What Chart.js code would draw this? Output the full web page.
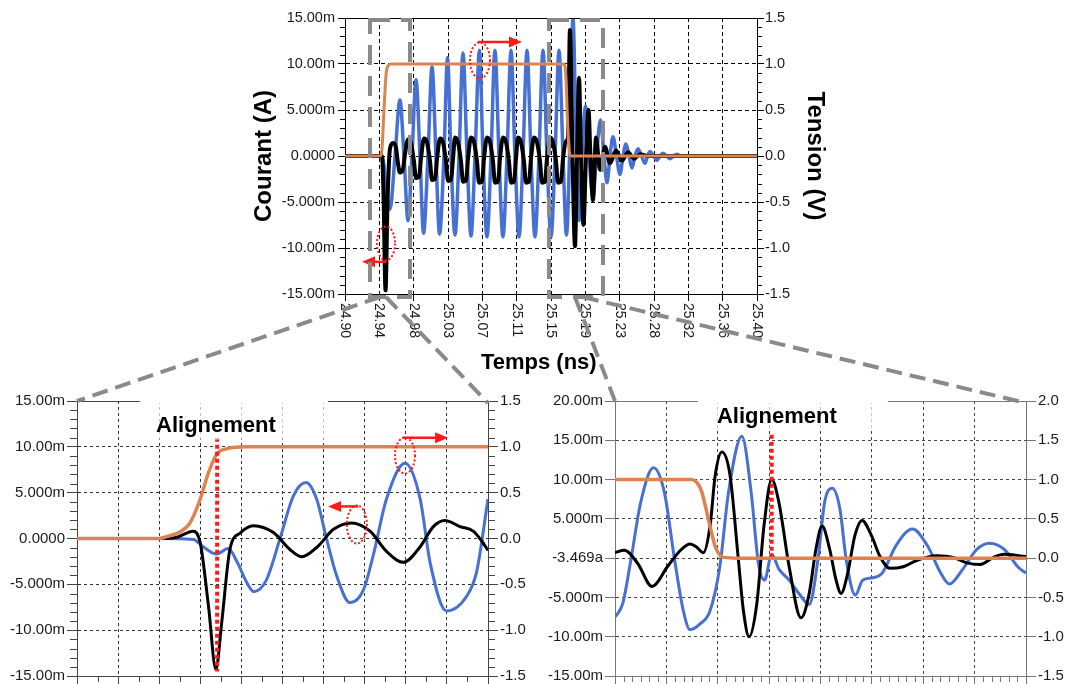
<!DOCTYPE html>
<html>
<head>
<meta charset="UTF-8">
<title>Courant / Tension - alignement</title>
<script src="https://cdn.jsdelivr.net/npm/chart.js"></script>
<style>
  html, body { margin: 0; padding: 0; background: #fff; }
  body { width: 1068px; height: 684px; position: relative; overflow: hidden; }
  canvas { position: absolute; }
  #mainChart { left: 246px; top: 0; }
  #zoomA { left: 0; top: 390px; }
  #zoomB { left: 540px; top: 390px; }
  #overlay { left: 0; top: 0; pointer-events: none; }
</style>
</head>
<body>
<canvas id="mainChart" width="587" height="380"></canvas>
<canvas id="zoomA" width="530" height="316"></canvas>
<canvas id="zoomB" width="528" height="316"></canvas>
<canvas id="overlay" width="1068" height="684"></canvas>
<script>
// ---- main view: time in ps after 24.90 ns, current in mA, voltage in V
const mainTimeLabels = ['24.90', '24.94', '24.98', '25.03', '25.07', '25.11', '25.15',
                        '25.19', '25.23', '25.28', '25.32', '25.36', '25.40'];
const currentTicks = [-15, -10, -5, 0, 5, 10, 15];
const currentLabels = ['-15.00m', '-10.00m', '-5.000m', '0.0000', '5.000m', '10.00m', '15.00m'];
const voltTicks = [-1.5, -1, -0.5, 0, 0.5, 1, 1.5];
const voltLabels = ['-1.5', '-1.0', '-0.5', '0.0', '0.5', '1.0', '1.5'];

const mainBlueT = [0, 44.9, 47.3, 49.8, 54.6,
  60.7, 66.7, 71.6, 76.5,   81.3, 86.2, 91.0, 95.3,   100.7, 105.6, 110.4, 114.7,
  120.1, 124.4, 128.6, 133.5,   138.4, 143.2, 148.1, 152.9,   157.8, 163.2, 167.5, 172.3,
  177.2, 182.0, 186.9, 191.7,   196.6, 201.5, 206.3, 211.2,   216.0, 220.9, 225.7, 230.6,
  235.4, 240.3, 245.1, 250.0,   254.9, 259.7, 264.6, 268.8,   273.1, 276.7, 280.4, 284.0,
  287.6, 291.9, 296.1, 301.0,   305.2, 310.1, 314.3, 318.0,   321.6, 325.2, 329.5, 333.7,
  337.4, 341.0, 344.7, 348.3,   351.9, 355.6, 359.8, 364.1,   367.1, 370.1, 374.4, 378.6,
  382.3, 385.9, 390.2, 394.4,   398.7, 402.9, 406.6, 500];
const mainBlueI = [0, 0, -1, -3.5, -5.8,
  0, 6.1, 0, -7.0,   0, 8.3, 0, -8.4,   0, 9.7, 0, -8.5,
  0, 10.7, 0, -8.6,   0, 11.2, 0, -8.7,   0, 11.5, 0, -8.8,
  0, 11.5, 0, -8.8,   0, 11.5, 0, -8.8,   0, 11.5, 0, -8.8,
  0, 11.5, 0, -8.8,   0, 11.5, 0, -8.6,   2, 15.0, 2, -7.0,
  0, 5.4, 0, -4.5,   0, 3.9, 0, -2.9,   0, 2.1, 0, -2.0,
  0, 1.3, 0, -1.3,   0, 0.8, 0, -0.8,   0, 0.5, 0, -0.5,
  0, 0.3, 0, -0.3,   0, 0.2, 0, 0];

const mainBlackT = [0, 44.9, 46.7, 49.2, 51.6, 54.6,
  58.3, 61.9, 64.3, 66.7, 70.4, 72.8,
  76.5, 80.1, 83.7, 86.2, 89.8, 92.2,
  95.9, 99.5, 103.2, 105.6, 109.2, 111.7,
  115.3, 118.9, 122.6, 125.0, 128.6, 131.1,
  133.5, 137.1, 140.8, 143.2, 146.8, 149.3,
  152.9, 156.6, 160.2, 162.6, 166.3, 168.7,
  172.3, 176.0, 179.6, 182.0, 185.7, 188.1,
  191.7, 195.4, 199.0, 201.5, 205.1, 207.5,
  210.0, 213.6, 217.2, 219.7, 223.3, 225.7,
  229.4, 233.0, 236.7, 239.1, 242.7, 245.1,
  248.8, 252.4, 256.1, 258.5, 262.1, 264.6,
  268.2, 270.6, 273.0, 276.1, 279.1, 281.6,
  284.0, 286.4, 289.4, 292.5, 295.5, 297.9,
  300.9, 304.6, 309.5, 315.5, 321.6, 328.9,
  336.2, 343.4, 350.7, 358.0, 367.7, 500];
const mainBlackI = [0, 0, -4, -14.6, -5, 0.8,
  1.4, 0.9, -0.8, -1.8, -1.4, 0.2,
  1.8, 1.4, -0.6, -2.4, -2.3, -0.3,
  1.9, 1.5, -0.6, -2.6, -2.5, -0.3,
  1.9, 1.5, -0.6, -2.7, -2.6, -0.3,
  2.0, 1.5, -0.6, -2.8, -2.7, -0.3,
  2.0, 1.5, -0.6, -2.9, -2.8, -0.3,
  2.0, 1.5, -0.6, -2.9, -2.8, -0.3,
  2.0, 1.5, -0.6, -2.9, -2.8, -0.3,
  2.0, 1.5, -0.6, -2.9, -2.8, -0.3,
  2.0, 1.5, -0.6, -2.9, -2.8, -0.3,
  2.0, 1.5, -0.6, -2.9, -2.8, -0.3,
  1.6, 2.0, 13.7, 0, -9.8, 0,
  8.5, 0, -7.5, 0, 5.0, 0,
  -4.8, 2.0, -1.5, 1.0, -0.8, 0.6,
  -0.5, 0.4, -0.3, 0.2, 0, 0];

const mainOrangeT = [0, 42.5, 44.9, 47.3, 49.8, 52.2, 55.8, 265.8, 268.2, 270.0, 271.8, 274.3, 500];
const mainOrangeV = [0, 0, 0.08, 0.5, 0.88, 0.98, 1.0, 1.0, 0.85, 0.4, 0.08, 0, 0];

// ---- zoom A (rising edge), grid units on x
const zaOrangeX = [0, 2.0, 2.18, 2.5, 2.75, 2.99, 3.2, 3.4, 3.65, 4.13, 10];
const zaOrangeV = [0, 0, 0.02, 0.07, 0.17, 0.42, 0.72, 0.92, 0.98, 1.0, 1.0];
const zaBlackX = [0, 2.0, 2.4, 2.83, 3.0, 3.2, 3.38, 3.52, 3.72, 3.97, 4.29, 4.78, 5.18, 5.47,
  5.85, 6.24, 6.68, 7.13, 7.53, 7.94, 8.35, 8.67, 8.95, 9.32, 9.64, 9.85, 10];
const zaBlackI = [0, 0, 0.1, 0.8, -0.5, -7.4, -14.3, -9.2, -1.2, 0.6, 1.4, 0.65, -1.2, -2.0,
  -0.9, 1.0, 1.7, 0.8, -1.4, -2.6, -0.9, 1.3, 1.96, 1.3, 0.8, -0.3, -1.3];
const zaBlueX = [0, 2.0, 2.83, 3.07, 3.4, 3.68, 3.9, 4.13, 4.3, 4.6, 4.94, 5.26, 5.57, 5.83,
  6.07, 6.32, 6.64, 6.97, 7.21, 7.53, 7.98, 8.35, 8.59, 8.99, 9.48, 9.72, 10];
const zaBlueI = [0, 0, -0.1, -0.9, -1.7, -1.1, -2.6, -4.8, -5.8, -4.6, 0, 4.6, 6.1, 4.3,
  0, -4.1, -7.0, -5.6, -1.8, 4.3, 8.2, 4.3, -2.6, -7.9, -6.3, -3.7, 4.3];

// ---- zoom B (falling edge)
const zbCurrentTicks = [-15, -10, -5, 0, 5, 10, 15, 20];
const zbCurrentLabels = ['-15.00m', '-10.00m', '-5.000m', '-3.469a', '5.000m', '10.00m', '15.00m', '20.00m'];
const zbVoltTicks = [-1.5, -1, -0.5, 0, 0.5, 1, 1.5, 2];
const zbVoltLabels = ['-1.5', '-1.0', '-0.5', '0.0', '0.5', '1.0', '1.5', '2.0'];
const zbOrangeX = [0, 1.49, 1.56, 1.62, 1.69, 1.82, 1.95, 2.03, 2.11, 2.4, 8];
const zbOrangeV = [1.0, 1.0, 0.98, 0.94, 0.84, 0.49, 0.15, 0.05, 0.01, 0.0, 0.0];
const zbBlackX = [0, 0.18, 0.44, 0.72, 1.03, 1.29, 1.46, 1.59, 1.72, 1.85, 1.95, 2.08, 2.24, 2.4,
  2.5, 2.61, 2.76, 2.9, 3.05, 3.19, 3.39, 3.62, 3.78, 3.91, 4.03, 4.18, 4.3, 4.4, 4.53, 4.67,
  4.81, 4.99, 5.16, 5.35, 5.61, 5.87, 6.26, 6.58, 6.85, 7.11, 7.37, 7.57, 8];
const zbBlackI = [0.7, 1.0, -0.65, -3.6, -1.0, 1.1, 1.8, 1.4, 0.7, 4.1, 10.5, 13.5, 10.5, -0.1,
  -6.7, -10.0, -5.8, 4.1, 10.0, 7.1, -1.1, -7.6, -4.5, 1.1, 4.1, 1.1, -2.7, -4.5, -1.9, 2.9,
  4.8, 2.9, 0.2, -1.3, -1.1, -0.3, 0.3, 0.1, -0.6, -0.8, 0.1, 0.5, 0.2];
const zbBlueX = [0, 0.15, 0.31, 0.5, 0.75, 0.96, 1.16, 1.33, 1.46, 1.65, 1.85, 2.04, 2.21, 2.47,
  2.65, 2.79, 2.91, 3.05, 3.19, 3.39, 3.58, 3.78, 3.95, 4.08, 4.23, 4.38, 4.5, 4.68, 4.82, 5.01,
  5.2, 5.47, 5.79, 6.08, 6.34, 6.51, 6.76, 7.04, 7.29, 7.58, 7.84, 8];
const zbBlueI = [-7.5, -5.8, -0.2, 7.1, 11.5, 8.4, -0.2, -6.7, -9.1, -8.4, -6.7, -1.1, 8.4, 15.5,
  8.4, -0.6, -2.8, 0.5, -1.4, -2.8, -4.5, -5.9, -0.2, 7.1, 8.9, 6.2, -0.2, -4.7, -2.8, -2.5,
  -1.9, 1.6, 3.7, 1.6, -1.9, -3.3, -1.5, 1.1, 1.9, 1.1, -1.1, -1.9];

// zoomed windows on the main time axis (ps) and where the connectors leave
const zoomWindows = [
  {chart: 'zoomA', from: 30.3, to: 78.9, a: 42.5, b: 49.8},
  {chart: 'zoomB', from: 247.6, to: 313.1, a: 279.1, b: 288.8}
];

const FONT = "'Liberation Sans', Arial, Helvetica, sans-serif";
const BLUE = '#4670d2', BLACK = '#000000', ORANGE = '#de8250', RED = '#ff1a1a';
Chart.defaults.font.family = FONT;

// annotations, in data units of each chart
const decorConfigs = {
  mainChart: {
    frame: '#000',
    minor: [{scale: 'y', major: 5, per: 5, len: 5, side: 'left'},
            {scale: 'y1', major: 0.5, per: 5, len: 5, side: 'right'}],
    xLabels: mainTimeLabels,
    marks: [{x: 49.8, y: -9.5, rx: 9, ry: 17, from: 49.8, to: 20.6, ay: -11.5},
            {x: 163.8, y: 10.4, rx: 10, ry: 18, from: 161.4, to: 214.8, ay: 12.4}]
  },
  zoomA: {
    frame: '#444',
    minor: [{scale: 'y', major: 5, per: 5, len: 7, side: 'left'},
            {scale: 'y1', major: 0.5, per: 5, len: 7, side: 'right'},
            {scale: 'x', major: 1, per: 2, len: 6, side: 'bottom'}],
    align: {x: 3.41, from: 11.0, to: -14.5},
    label: {text: 'Alignement', x: 3.38, y: 11.67, box: [1.53, 6.11, 10.8]},
    marks: [{x: 7.98, y: 9.05, rx: 10, ry: 18, from: 7.93, to: 9.03, ay: 11.0},
            {x: 6.81, y: 1.53, rx: 10, ry: 19, from: 6.84, to: 6.11, ay: 3.5}]
  },
  zoomB: {
    frame: '#777',
    minor: [{scale: 'x', major: 1, per: 6, len: 6, side: 'bottom'}],
    align: {x: 3.05, from: 15.7, to: 0.2},
    label: {text: 'Alignement', x: 3.15, y: 17.2, box: [1.61, 5.31, 16.2]},
    marks: []
  }
};

const decor = {
  id: 'decor',
  afterDatasetsDraw(chart) {
    const d = decorConfigs[chart.canvas.id];
    const ctx = chart.ctx, xs = chart.scales.x, ys = chart.scales.y;
    ctx.save();
    if (d.align) {
      const x = xs.getPixelForValue(d.align.x);
      ctx.strokeStyle = RED; ctx.lineWidth = 4; ctx.setLineDash([4, 3]);
      ctx.beginPath();
      ctx.moveTo(x, ys.getPixelForValue(d.align.from));
      ctx.lineTo(x, ys.getPixelForValue(d.align.to));
      ctx.stroke();
    }
    d.marks.forEach(m => {
      const cx = xs.getPixelForValue(m.x), cy = ys.getPixelForValue(m.y);
      ctx.strokeStyle = RED; ctx.fillStyle = RED;
      ctx.lineWidth = 2; ctx.setLineDash([2, 2]);
      ctx.beginPath(); ctx.ellipse(cx, cy, m.rx, m.ry, 0, 0, 2 * Math.PI); ctx.stroke();
      const x0 = xs.getPixelForValue(m.from), x1 = xs.getPixelForValue(m.to);
      const ay = ys.getPixelForValue(m.ay), dir = Math.sign(x1 - x0);
      ctx.setLineDash([]); ctx.lineWidth = 2.5;
      ctx.beginPath(); ctx.moveTo(x0, ay); ctx.lineTo(x1 - dir * 10, ay); ctx.stroke();
      ctx.beginPath();
      ctx.moveTo(x1, ay); ctx.lineTo(x1 - dir * 13, ay - 5.5); ctx.lineTo(x1 - dir * 13, ay + 5.5);
      ctx.closePath(); ctx.fill();
    });
    ctx.restore();
  },
  afterDraw(chart) {
    const d = decorConfigs[chart.canvas.id];
    const ctx = chart.ctx, a = chart.chartArea;
    ctx.save();
    ctx.strokeStyle = d.frame; ctx.lineWidth = 1;
    ctx.beginPath(); ctx.moveTo(a.left, Math.round(a.top) + 0.5); ctx.lineTo(a.right, Math.round(a.top) + 0.5); ctx.stroke();
    // minor ticks
    d.minor.forEach(mn => {
      const s = chart.scales[mn.scale];
      const n = Math.round((s.max - s.min) / mn.major * mn.per);
      ctx.beginPath();
      for (let k = 1; k < n; k++) {
        if (k % mn.per === 0) continue;
        const p = Math.round(s.getPixelForValue(s.min + k * mn.major / mn.per)) + 0.5;
        if (mn.side === 'left') { ctx.moveTo(a.left - mn.len, p); ctx.lineTo(a.left, p); }
        else if (mn.side === 'right') { ctx.moveTo(a.right, p); ctx.lineTo(a.right + mn.len, p); }
        else { ctx.moveTo(p, a.bottom); ctx.lineTo(p, a.bottom + mn.len); }
      }
      ctx.stroke();
    });
    // rotated time labels
    if (d.xLabels) {
      const xs = chart.scales.x;
      ctx.fillStyle = '#1a1a1a';
      ctx.font = '14px ' + FONT;
      ctx.textAlign = 'left'; ctx.textBaseline = 'middle';
      xs.ticks.forEach((t, i) => {
        ctx.save();
        ctx.translate(xs.getPixelForValue(t.value), a.bottom + 9);
        ctx.rotate(Math.PI / 2);
        ctx.fillText(d.xLabels[i], 0, 0);
        ctx.restore();
      });
    }
    // "Alignement" label on a light box
    if (d.label) {
      const xs = chart.scales.x, ys = chart.scales.y;
      const bx0 = xs.getPixelForValue(d.label.box[0]), bx1 = xs.getPixelForValue(d.label.box[1]);
      const by1 = ys.getPixelForValue(d.label.box[2]);
      ctx.fillStyle = '#fff';
      ctx.fillRect(bx0, a.top - 2, bx1 - bx0, 4);
      ctx.fillStyle = 'rgba(255,255,255,0.7)';
      ctx.fillRect(bx0, a.top + 2, bx1 - bx0, by1 - a.top - 2);
      ctx.fillStyle = '#000';
      ctx.font = 'bold 22px ' + FONT;
      ctx.textAlign = 'center'; ctx.textBaseline = 'alphabetic';
      ctx.fillText(d.label.text, xs.getPixelForValue(d.label.x), ys.getPixelForValue(d.label.y));
    }
    ctx.restore();
  }
};

function pts(xs, ys) { return xs.map((x, i) => ({x: x, y: ys[i]})); }

function series(label, xs, ys, color, width, axis, order) {
  return {
    label: label, data: pts(xs, ys), borderColor: color, borderWidth: width,
    yAxisID: axis, order: order, pointRadius: 0, fill: false,
    cubicInterpolationMode: 'monotone'
  };
}

function fixedTicks(values) {
  return scale => { scale.ticks = values.map(v => ({value: v})); };
}

function yAxis(pos, min, max, values, labels, o) {
  return {
    position: pos, min: min, max: max,
    afterBuildTicks: fixedTicks(values),
    afterFit: s => { s.width = o.width; },
    ticks: {autoSkip: false, padding: o.pad, color: '#1a1a1a',
            font: {family: FONT, size: o.fontSize}, callback: (v, i) => labels[i]},
    grid: {drawOnChartArea: o.grid, color: o.gridColor, lineWidth: 1,
           tickColor: o.axisColor, tickLength: o.tick},
    border: {color: o.axisColor, width: 1, dash: o.dash},
    title: o.title ? {display: true, text: o.title, color: '#000',
                      font: {family: FONT, size: 24, weight: 'bold'}, padding: {top: 4, bottom: 4}}
                   : {display: false}
  };
}

function xAxis(min, max, values, o) {
  return {
    type: 'linear', position: 'bottom', min: min, max: max,
    afterBuildTicks: fixedTicks(values),
    afterFit: s => { s.height = o.height; },
    ticks: {display: false},
    grid: {color: o.gridColor, lineWidth: 1, tickColor: o.axisColor, tickLength: o.tick},
    border: {color: o.axisColor, width: 1, dash: o.dash},
    title: o.title ? {display: true, text: o.title, color: '#000',
                      font: {family: FONT, size: 22, weight: 'bold'}, padding: {top: 4, bottom: 4}}
                   : {display: false}
  };
}

function baseOptions(padTop, scales) {
  return {
    responsive: false, animation: false, devicePixelRatio: 1, events: [],
    layout: {padding: {top: padTop, left: 0, right: 0, bottom: 0}},
    plugins: {legend: {display: false}, tooltip: {enabled: false}},
    scales: scales
  };
}

const charts = {};

const mainGrid = {gridColor: '#000', axisColor: '#000', dash: [4, 3], fontSize: 14.5, pad: 3, tick: 7};
charts.mainChart = new Chart(document.getElementById('mainChart'), {
  type: 'line',
  data: {datasets: [
    series('Tension', mainOrangeT, mainOrangeV, ORANGE, 3, 'y1', 0),
    series('Courant 2', mainBlackT, mainBlackI, BLACK, 4, 'y', 1),
    series('Courant 1', mainBlueT, mainBlueI, BLUE, 3.5, 'y', 2)
  ]},
  options: baseOptions(18, {
    x: xAxis(0, 500, mainTimeLabels.map((_, k) => k * 500 / 12),
             Object.assign({height: 86, title: 'Temps (ns)\u00a0\u00a0\u00a0\u00a0'}, mainGrid)),
    y: yAxis('left', -15, 15, currentTicks, currentLabels,
             Object.assign({width: 99, grid: true, title: 'Courant (A)'}, mainGrid)),
    y1: yAxis('right', -1.5, 1.5, voltTicks, voltLabels,
              Object.assign({width: 76, grid: false, title: 'Tension (V)'}, mainGrid, {pad: 1}))
  }),
  plugins: [decor]
});

const zaGrid = {gridColor: '#333', axisColor: '#444', dash: [3, 3], fontSize: 15, pad: 2, tick: 10};
charts.zoomA = new Chart(document.getElementById('zoomA'), {
  type: 'line',
  data: {datasets: [
    series('Tension', zaOrangeX, zaOrangeV, ORANGE, 3.5, 'y1', 0),
    series('Courant 2', zaBlackX, zaBlackI, BLACK, 3, 'y', 1),
    series('Courant 1', zaBlueX, zaBlueI, BLUE, 3, 'y', 2)
  ]},
  options: baseOptions(11, {
    x: xAxis(0, 10, [0, 1, 2, 3, 4, 5, 6, 7, 8, 9, 10], Object.assign({height: 30}, zaGrid, {tick: 8})),
    y: yAxis('left', -15, 15, currentTicks, currentLabels, Object.assign({width: 77, grid: true}, zaGrid)),
    y1: yAxis('right', -1.5, 1.5, voltTicks, voltLabels, Object.assign({width: 42, grid: false}, zaGrid))
  }),
  plugins: [decor]
});

const zbGrid = {gridColor: '#444', axisColor: '#777', dash: [3, 3], fontSize: 15, pad: 2, tick: 10};
charts.zoomB = new Chart(document.getElementById('zoomB'), {
  type: 'line',
  data: {datasets: [
    series('Tension', zbOrangeX, zbOrangeV, ORANGE, 3.5, 'y1', 0),
    series('Courant 2', zbBlackX, zbBlackI, BLACK, 3, 'y', 1),
    series('Courant 1', zbBlueX, zbBlueI, BLUE, 3, 'y', 2)
  ]},
  options: baseOptions(10, {
    x: xAxis(0, 8, [0, 1, 2, 3, 4, 5, 6, 7, 8], Object.assign({height: 30}, zbGrid, {tick: 8})),
    y: yAxis('left', -15, 20, zbCurrentTicks, zbCurrentLabels, Object.assign({width: 75, grid: true}, zbGrid)),
    y1: yAxis('right', -1.5, 2, zbVoltTicks, zbVoltLabels, Object.assign({width: 42, grid: false}, zbGrid))
  }),
  plugins: [decor]
});

// dashed zoom frames on the main chart and connectors to the zoomed views
function drawOverlay() {
  const ctx = document.getElementById('overlay').getContext('2d');
  const main = charts.mainChart, mx = main.scales.x, ma = main.chartArea;
  const ml = main.canvas.offsetLeft, mt = main.canvas.offsetTop;
  ctx.strokeStyle = '#8a8a8a'; ctx.lineWidth = 4; ctx.lineCap = 'butt';
  zoomWindows.forEach(w => {
    const sub = charts[w.chart], sa = sub.chartArea;
    const sl = sub.canvas.offsetLeft, st = sub.canvas.offsetTop;
    const x0 = ml + mx.getPixelForValue(w.from), x1 = ml + mx.getPixelForValue(w.to);
    const y0 = mt + ma.top + 2, y1 = mt + ma.bottom + 3;
    ctx.setLineDash([20, 11]);
    ctx.strokeRect(x0, y0, x1 - x0, y1 - y0);
    ctx.setLineDash([16, 8]);
    ctx.beginPath();
    ctx.moveTo(ml + mx.getPixelForValue(w.a), y1); ctx.lineTo(sl + sa.left, st + sa.top);
    ctx.moveTo(ml + mx.getPixelForValue(w.b), y1); ctx.lineTo(sl + sa.right, st + sa.top + 2);
    ctx.stroke();
  });
}
drawOverlay();
</script>
</body>
</html>
